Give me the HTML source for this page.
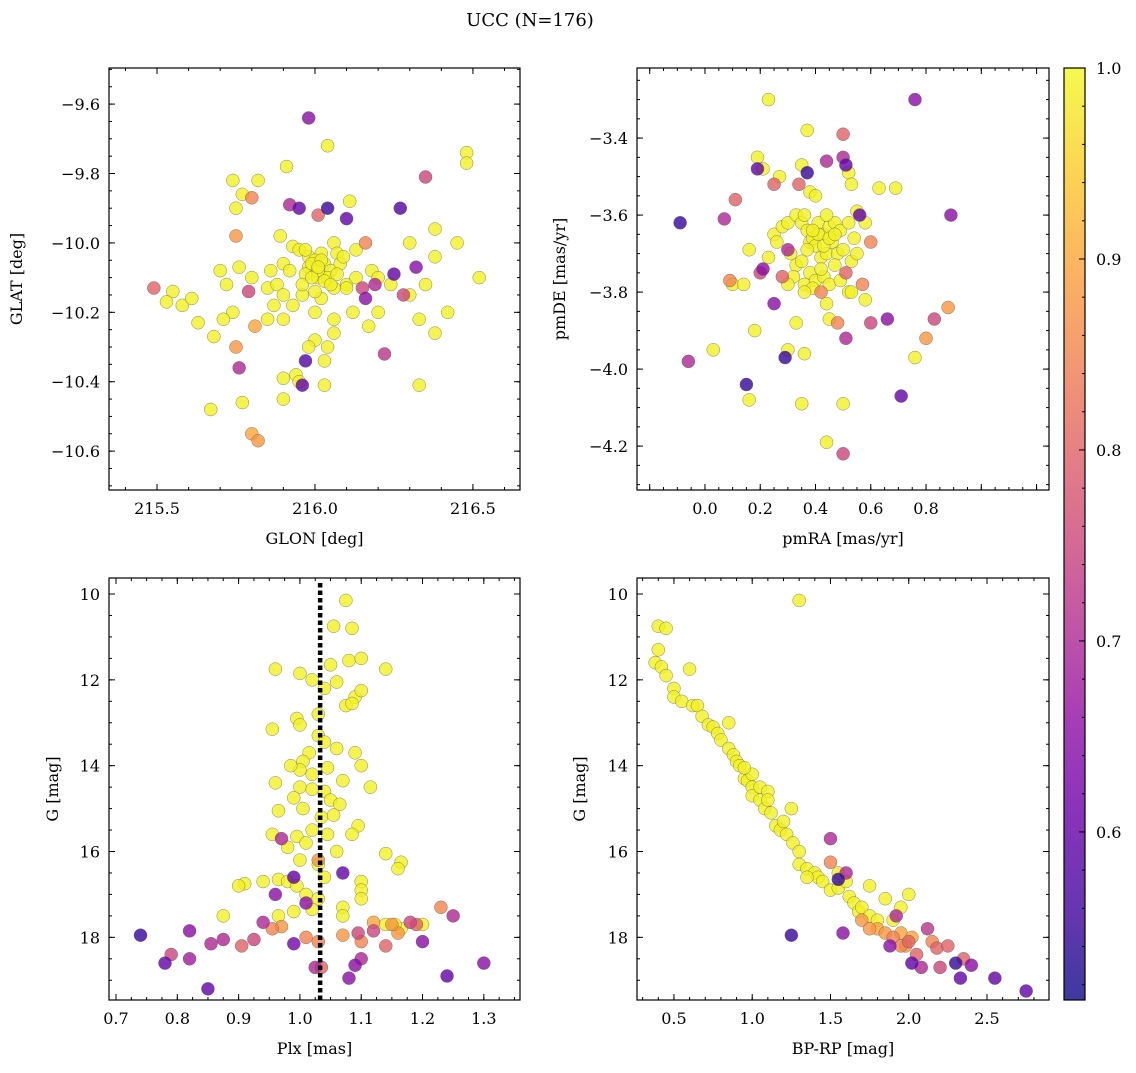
<!DOCTYPE html>
<html><head><meta charset="utf-8"><style>
body{margin:0;background:#fff;}
svg text{font-family:"DejaVu Serif","Liberation Serif",serif;fill:#000;}
</style></head><body>
<svg id="fig" width="1136" height="1068" viewBox="0 0 1136 1068" xmlns="http://www.w3.org/2000/svg">
<defs><linearGradient id="cbg" x1="0" y1="1" x2="0" y2="0"></linearGradient></defs>
<text x="530" y="26" font-size="18" text-anchor="middle">UCC (N=176)</text>
</svg>
<script>
// ---- data (value arrays) ----
// Panel 1: GLON, GLAT, prob
const p1Lon=[215.98,216.35,215.92,215.95,216.04,216.27,216.1,216.01,215.8,216.16,216.32,216.25,216.28,216.15,216.19,215.75,215.49,215.79,215.76,215.75,215.81,215.97,215.96,216.22,215.8,215.82,216.16,
216.04,216.48,216.48,215.91,215.74,215.82,215.77,216.11,215.75,215.89,216.38,215.93,215.95,216.06,216.13,216.45,216.3,216.38,216.07,215.98,216.02,216.0,216.03,215.98,216.05,215.97,216.01,216.04,216.08,215.9,215.92,215.86,215.7,215.76,215.8,215.72,215.55,215.58,215.53,215.61,215.63,215.74,215.71,215.85,215.88,215.9,215.93,215.96,216.0,216.02,216.06,216.1,216.13,216.18,216.2,216.24,216.3,216.35,216.42,216.52,216.38,216.33,216.2,216.12,216.06,216.04,216.03,216.0,215.98,215.9,215.85,215.68,215.67,215.77,215.9,215.94,215.95,215.9,216.03,216.33,216.1,216.17,215.87,216.06,
215.99,216.01,216.03,215.96,216.0,216.02,215.97,216.05,216.07,215.99,216.01,216.09];
const p1Lat=[-9.64,-9.81,-9.89,-9.90,-9.90,-9.90,-9.93,-9.92,-9.87,-10.0,-10.07,-10.09,-10.15,-10.13,-10.12,-9.98,-10.13,-10.14,-10.36,-10.3,-10.24,-10.34,-10.41,-10.32,-10.55,-10.57,-10.16,
-9.72,-9.74,-9.77,-9.78,-9.82,-9.82,-9.86,-9.88,-9.9,-9.98,-9.96,-10.01,-10.02,-10.0,-10.02,-10.0,-10.0,-10.04,-10.03,-10.04,-10.03,-10.05,-10.06,-10.07,-10.08,-10.09,-10.1,-10.1,-10.06,-10.06,-10.08,-10.08,-10.08,-10.07,-10.1,-10.12,-10.14,-10.18,-10.17,-10.16,-10.23,-10.2,-10.22,-10.13,-10.12,-10.15,-10.18,-10.15,-10.2,-10.16,-10.13,-10.12,-10.1,-10.08,-10.1,-10.12,-10.15,-10.12,-10.2,-10.1,-10.26,-10.22,-10.2,-10.2,-10.26,-10.3,-10.34,-10.28,-10.3,-10.22,-10.22,-10.27,-10.48,-10.46,-10.39,-10.38,-10.4,-10.45,-10.41,-10.41,-10.13,-10.24,-10.18,-10.22,
-10.06,-10.08,-10.11,-10.12,-10.14,-10.05,-10.02,-10.12,-10.09,-10.1,-10.07,-10.04];
const p1Prob=[0.65,0.75,0.7,0.6,0.55,0.58,0.6,0.8,0.85,0.85,0.65,0.6,0.75,0.75,0.7,0.88,0.8,0.75,0.7,0.88,0.9,0.58,0.6,0.72,0.9,0.88,0.65];
// Panel 2: pmRA, pmDE, prob
const p2Ra=[-0.09,0.07,0.11,0.19,0.25,0.2,0.09,0.25,0.21,0.28,0.34,0.29,0.15,-0.06,0.37,0.44,0.5,0.51,0.5,0.56,0.6,0.51,0.48,0.6,0.66,0.76,0.89,0.83,0.8,0.88,0.71,0.5,0.42,0.3,0.57,0.51,
0.23,0.19,0.21,0.27,0.35,0.37,0.38,0.4,0.52,0.53,0.55,0.63,0.69,0.25,0.26,0.28,0.3,0.33,0.35,0.36,0.37,0.38,0.39,0.4,0.41,0.42,0.43,0.44,0.45,0.46,0.47,0.48,0.49,0.5,0.52,0.54,0.53,0.31,0.33,0.35,0.32,0.36,0.38,0.4,0.43,0.45,0.47,0.55,0.58,0.23,0.16,0.1,0.14,0.18,0.03,0.16,0.3,0.33,0.36,0.35,0.44,0.5,0.44,0.45,0.52,0.53,0.58,0.76,0.39,0.36,0.49,0.3,
0.41,0.43,0.45,0.39,0.37,0.47,0.42,0.44];
const p2De=[-3.62,-3.61,-3.56,-3.48,-3.52,-3.75,-3.77,-3.83,-3.74,-3.76,-3.52,-3.97,-4.04,-3.98,-3.49,-3.46,-3.39,-3.47,-3.45,-3.6,-3.67,-3.92,-3.88,-3.88,-3.87,-3.3,-3.6,-3.87,-3.92,-3.84,-4.07,-4.22,-3.8,-3.69,-3.78,-3.75,
-3.3,-3.45,-3.48,-3.5,-3.47,-3.38,-3.54,-3.55,-3.49,-3.52,-3.59,-3.53,-3.53,-3.65,-3.67,-3.63,-3.62,-3.6,-3.62,-3.6,-3.64,-3.67,-3.66,-3.68,-3.62,-3.71,-3.65,-3.7,-3.63,-3.67,-3.62,-3.7,-3.64,-3.69,-3.62,-3.66,-3.72,-3.7,-3.73,-3.72,-3.76,-3.78,-3.75,-3.77,-3.76,-3.78,-3.73,-3.7,-3.62,-3.71,-3.69,-3.78,-3.78,-3.9,-3.95,-4.08,-3.95,-3.88,-3.96,-4.09,-4.19,-4.09,-3.83,-3.87,-3.8,-3.8,-3.82,-3.97,-3.79,-3.8,-3.77,-3.78,
-3.65,-3.68,-3.66,-3.64,-3.69,-3.65,-3.74,-3.6];
const p2Prob=[0.55,0.7,0.8,0.6,0.8,0.75,0.85,0.65,0.65,0.8,0.8,0.55,0.55,0.7,0.55,0.7,0.8,0.6,0.7,0.6,0.85,0.7,0.85,0.75,0.65,0.65,0.65,0.75,0.88,0.88,0.6,0.75,0.85,0.7,0.85,0.8];
// Panel 3: Plx, G, prob
const p3Plx=[1.075,1.085,1.055,0.96,1.0,1.05,1.08,1.1,1.14,1.02,1.04,1.06,1.09,1.1,1.075,1.085,0.995,1.03,1.0,0.955,1.03,1.04,1.06,1.015,1.09,1.005,1.0,0.985,1.02,1.045,1.1,1.07,0.96,1.0,1.02,1.04,1.115,0.99,1.05,1.065,0.965,1.005,1.035,1.055,1.095,1.02,0.955,0.995,1.045,1.085,1.01,1.06,0.98,1.0,1.03,1.14,1.165,1.16,1.1,1.1,1.04,0.965,0.98,0.995,0.94,0.91,0.9,1.03,1.01,1.1,1.07,1.07,0.99,1.02,0.965,0.875,1.14,1.165,1.2,1.155,
0.74,0.78,0.79,0.82,0.82,0.85,0.855,0.875,0.905,0.925,0.94,0.955,0.97,0.96,0.97,0.99,0.99,1.01,1.03,1.025,1.035,1.07,1.07,1.08,1.09,1.1,1.1,1.095,1.12,1.14,1.16,1.18,1.19,1.2,1.23,1.25,1.24,1.3,1.12,1.15,1.01,1.03];
const p3G=[10.15,10.8,10.75,11.75,11.85,11.65,11.55,11.5,11.75,12.0,12.2,12.05,12.4,12.25,12.6,12.55,12.9,12.8,13.05,13.15,13.3,13.45,13.6,13.7,13.7,13.9,14.1,14.0,14.2,14.05,14.0,14.35,14.4,14.5,14.55,14.6,14.5,14.75,14.8,14.9,15.05,15.0,15.2,15.15,15.4,15.5,15.6,15.65,15.6,15.6,15.8,16.0,15.9,16.2,16.3,16.05,16.25,16.4,16.7,16.9,16.6,16.65,16.7,16.8,16.7,16.75,16.8,17.1,17.0,17.1,17.3,17.5,17.4,17.35,17.5,17.5,17.7,17.8,17.7,17.7,
17.95,18.6,18.4,17.85,18.5,19.2,18.15,18.05,18.2,18.05,17.65,17.8,17.75,17.0,15.7,16.6,18.15,18.0,18.1,18.7,18.7,16.5,17.95,18.95,18.65,18.5,18.1,17.9,17.85,18.2,17.9,17.65,17.7,18.1,17.3,17.5,18.9,18.6,17.65,17.7,17.2,16.2];
const p3Prob=[0.55,0.6,0.75,0.65,0.68,0.6,0.7,0.7,0.8,0.75,0.7,0.85,0.88,0.65,0.7,0.6,0.62,0.85,0.85,0.7,0.8,0.6,0.88,0.65,0.65,0.7,0.85,0.75,0.75,0.8,0.88,0.75,0.8,0.65,0.85,0.7,0.6,0.65,0.9,0.88,0.65,0.88];
// Panel 4: BP-RP, G, prob
const p4Bp=[0.4,0.45,0.4,0.38,0.42,0.45,0.5,0.5,0.55,0.6,0.62,0.65,0.68,0.72,0.75,0.78,0.8,0.85,0.85,0.88,0.9,0.92,0.95,0.97,1.0,1.0,1.05,1.05,1.1,1.08,1.12,1.15,1.18,1.2,1.25,1.22,1.26,1.3,1.3,1.35,1.4,1.42,1.45,1.5,1.55,1.6,1.62,1.65,1.68,1.7,1.75,1.75,1.8,1.85,1.9,1.95,2.0,1.3,1.0,0.95,1.1,1.35,1.55,
1.5,1.5,1.55,1.6,1.25,1.58,1.7,1.75,1.8,1.85,1.88,1.9,1.92,1.95,2.0,2.02,2.05,2.08,2.12,2.15,2.18,2.2,2.25,2.3,2.35,2.33,2.4,2.55,2.75,1.98,1.95,2.02];
const p4G=[10.75,10.8,11.3,11.6,11.7,11.9,12.2,12.4,12.5,11.75,12.6,12.6,12.85,13.05,13.1,13.25,13.4,13.0,13.6,13.75,13.9,14.0,14.3,14.35,14.5,14.7,14.5,14.8,14.6,15.0,15.1,15.4,15.5,15.3,15.0,15.6,15.8,16.0,16.3,16.4,16.5,16.6,16.7,16.9,16.85,16.7,17.05,17.2,17.4,17.3,16.8,17.5,17.6,17.1,17.6,17.3,17.0,10.15,14.2,14.05,14.8,16.6,16.5,
15.7,16.25,16.65,16.5,17.95,17.9,17.6,17.8,17.8,17.9,18.2,18.0,17.5,18.2,18.1,18.6,18.4,18.7,17.8,18.1,18.25,18.7,18.2,18.6,18.5,18.95,18.65,18.95,19.25,18.2,17.9,18.0];
const p4Prob=[0.7,0.85,0.55,0.7,0.55,0.65,0.88,0.88,0.9,0.88,0.65,0.85,0.7,0.85,0.8,0.6,0.8,0.7,0.72,0.85,0.8,0.75,0.8,0.55,0.8,0.6,0.65,0.6,0.6,0.88,0.9,0.9];
const cbTicks=[0.6,0.7,0.8,0.9,1.0];
const plxLine=[1.033];

// ---- helpers ----
const NS="http://www.w3.org/2000/svg";
const svg=document.getElementById('fig');
function mk(tag,attrs,parent){const e=document.createElementNS(NS,tag);for(const k in attrs)e.setAttribute(k,attrs[k]);(parent||svg).appendChild(e);return e;}
const stops=["#0d0887","#41049d","#6a00a8","#8f0da4","#b12a90","#cc4778","#e16462","#f2844b","#fca636","#fcce25","#f0f921"];
function hex(h){return [parseInt(h.slice(1,3),16),parseInt(h.slice(3,5),16),parseInt(h.slice(5,7),16)];}
const VMIN=0.512,VMAX=1.0;
function cmap(v){let t=(v-VMIN)/(VMAX-VMIN);t=Math.max(0,Math.min(1,t));const f=t*10,i=Math.min(9,Math.floor(f)),r=f-i;const a=hex(stops[i]),b=hex(stops[i+1]);return `rgb(${a.map((x,j)=>Math.round(x+(b[j]-x)*r)).join(',')})`;}

function panel(cfg){
  const {x0,x1,y0,y1,xd,yd,name}=cfg;
  const sx=v=>x0+(v-xd[0])/(xd[1]-xd[0])*(x1-x0);
  const sy=v=>y1-(v-yd[0])/(yd[1]-yd[0])*(y1-y0);
  const g=mk('g',{});
  
  
  mk('clipPath',{id:'c'+name},g).appendChild(document.createElementNS(NS,'rect'));
  const cr=g.querySelector('clipPath rect');cr.setAttribute('x',x0);cr.setAttribute('y',y0);cr.setAttribute('width',x1-x0);cr.setAttribute('height',y1-y0);
  const pg=mk('g',{'clip-path':`url(#c${name})`},g);
  const idx=cfg.xs.map((_,i)=>i).sort((a,b)=>cfg.prob(b)-cfg.prob(a));
  idx.forEach(i=>{
    const p=cfg.prob(i);
    const c=mk('circle',{cx:sx(cfg.xs[i]),cy:sy(cfg.ys[i]),r:6.5,fill:cmap(p),'fill-opacity':0.8,stroke:'#555','stroke-width':0.5,'stroke-opacity':0.7},pg);
    
    
  });
  if(cfg.extra)cfg.extra(pg,sx,sy);
  const tg=mk('g',{stroke:'#000','stroke-width':1},g);
  function ticks(step,len,axis){
    const d=axis==='x'?xd:yd;const lo=Math.min(d[0],d[1]),hi=Math.max(d[0],d[1]);const s0=Math.ceil(lo/step-1e-6);
    for(let k=s0;k*step<=hi+1e-9;k++){const v=k*step;
      if(axis==='x'){const x=sx(v);mk('line',{x1:x,x2:x,y1:y1,y2:y1-len},tg);mk('line',{x1:x,x2:x,y1:y0,y2:y0+len},tg);}
      else{const y=sy(v);mk('line',{x1:x0,x2:x0+len,y1:y,y2:y},tg);mk('line',{x1:x1,x2:x1-len,y1:y,y2:y},tg);}}
  }
  ticks(cfg.xmaj,6,'x');ticks(cfg.xmin,3,'x');ticks(cfg.ymaj,6,'y');ticks(cfg.ymin,3,'y');
  const fr=mk('rect',{x:x0,y:y0,width:x1-x0,height:y1-y0,fill:'none',stroke:'#000','stroke-width':1.2},g);
  
  
  cfg.xlabs.forEach(v=>{const t=mk('text',{x:sx(v),y:y1+24,'font-size':16,'text-anchor':'middle'},g);t.textContent=v.toFixed(1);
    });
  cfg.ylabs.forEach(v=>{const t=mk('text',{x:x0-9,y:sy(v)+6,'font-size':16,'text-anchor':'end'},g);t.textContent=cfg.yfmt(v);
    });
  const xt=mk('text',{x:(x0+x1)/2,y:y1+54,'font-size':16,'text-anchor':'middle'},g);xt.textContent=cfg.xt;
  
  const yx=cfg.ytx,yy=(y0+y1)/2;
  const yt=mk('text',{x:yx,y:yy,'font-size':16,'text-anchor':'middle',transform:`rotate(-90 ${yx} ${yy})`},g);yt.textContent=cfg.yt;
  
}
const neg=v=>(v<0?'\u2212':'')+Math.abs(v).toFixed(1);
const probF=(arr)=>i=>i<arr.length?arr[i]:0.99;

panel({name:'glon-glat-panel',x0:109,x1:520,y0:68,y1:490,xd:[215.348,216.649],yd:[-10.712,-9.496],xs:p1Lon,ys:p1Lat,prob:probF(p1Prob),
  xmaj:0.5,xmin:0.1,ymaj:0.2,ymin:0.05,xlabs:[215.5,216.0,216.5],ylabs:[-10.6,-10.4,-10.2,-10.0,-9.8,-9.6],yfmt:neg,xt:'GLON [deg]',yt:'GLAT [deg]',ytx:22});
panel({name:'pm-panel',x0:637,x1:1049,y0:68,y1:490,xd:[-0.246,1.245],yd:[-4.314,-3.218],xs:p2Ra,ys:p2De,prob:probF(p2Prob),
  xmaj:0.2,xmin:0.05,ymaj:0.2,ymin:0.05,xlabs:[0.0,0.2,0.4,0.6,0.8],ylabs:[-4.2,-4.0,-3.8,-3.6,-3.4],yfmt:neg,xt:'pmRA [mas/yr]',yt:'pmDE [mas/yr]',ytx:565});
panel({name:'plx-g-panel',x0:109,x1:520,y0:578,y1:1000,xd:[0.6886,1.359],yd:[19.46,9.627],xs:p3Plx,ys:p3G,prob:i=>i<80?0.99:p3Prob[i-80],
  xmaj:0.1,xmin:0.025,ymaj:2,ymin:0.5,xlabs:[0.7,0.8,0.9,1.0,1.1,1.2,1.3],ylabs:[10,12,14,16,18],yfmt:v=>String(v),xt:'Plx [mas]',yt:'G [mag]',ytx:58,
  extra:(pg,sx,sy)=>{plxLine.forEach(v=>{const l=mk('line',{x1:sx(v),x2:sx(v),y1:sy(19.46),y2:sy(9.627)+5,stroke:'#000','stroke-width':4.5,'stroke-dasharray':'4.5 3'},pg);
    });}});
panel({name:'cmd-panel',x0:637,x1:1049,y0:578,y1:1000,xd:[0.264,2.896],yd:[19.46,9.627],xs:p4Bp,ys:p4G,prob:i=>i<63?0.99:p4Prob[i-63],
  xmaj:0.5,xmin:0.1,ymaj:2,ymin:0.5,xlabs:[0.5,1.0,1.5,2.0,2.5],ylabs:[10,12,14,16,18],yfmt:v=>String(v),xt:'BP-RP [mag]',yt:'G [mag]',ytx:585});

// colorbar
const grad=document.getElementById('cbg');
for(let k=0;k<=20;k++){const v=VMIN+(VMAX-VMIN)*k/20;mk('stop',{offset:k/20,'stop-color':cmap(v),'stop-opacity':0.8},grad);}
const cb=mk('g',{});


const cbx0=1064,cbx1=1085,cby0=68,cby1=1000;
const cy=v=>cby1-(v-VMIN)/(VMAX-VMIN)*(cby1-cby0);
mk('rect',{x:cbx0,y:cby0,width:cbx1-cbx0,height:cby1-cby0,fill:'url(#cbg)',stroke:'#000','stroke-width':1.2},cb);
for(let k=26;k<=50;k++){const v=k*0.02;if(v<VMIN)continue;const y=cy(v);mk('line',{x1:cbx1,x2:cbx1-3,y1:y,y2:y,stroke:'#000'},cb);}
cbTicks.forEach(v=>{const y=cy(v);mk('line',{x1:cbx1,x2:cbx1-6,y1:y,y2:y,stroke:'#000'},cb);
  const t=mk('text',{x:1096,y:y+6,'font-size':16},cb);t.textContent=v.toFixed(1);
  });
</script>
</body></html>
